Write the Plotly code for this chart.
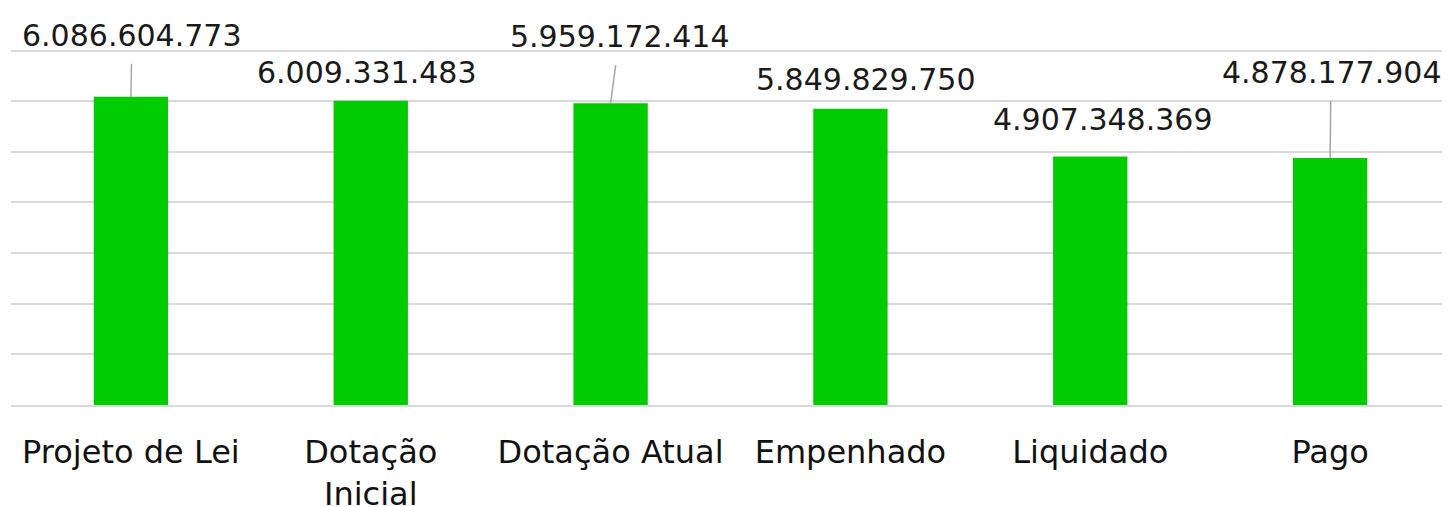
import plotly.graph_objects as go

categories = ["Projeto de Lei", "Dotação<br>Inicial", "Dotação Atual", "Empenhado", "Liquidado", "Pago"]
values = [6086604773, 6009331483, 5959172414, 5849829750, 4907348369, 4878177904]
value_labels = ["6.086.604.773", "6.009.331.483", "5.959.172.414", "5.849.829.750", "4.907.348.369", "4.878.177.904"]

# label offsets (pixels) relative to the top of each bar, and leader-line settings
label_ax = [1, -4, 9, 15, 12, 1]
label_ay = [-61, -28, -67, -29, -37, -85]
leader = [True, False, True, False, False, True]
leader_gap = [9, 0, 10, 0, 0, 9]

FONT = "DejaVu Sans"

fig = go.Figure()
fig.add_trace(go.Bar(x=categories, y=values, marker=dict(color="#00CC00", line=dict(width=0)),
                     width=0.31, hoverinfo="skip"))

for c, v, t, ax, ay, ld, gap in zip(categories, values, value_labels, label_ax, label_ay, leader, leader_gap):
    if ld:
        fig.add_annotation(x=c, y=v, xref="x", yref="y", text=t, showarrow=True,
                           arrowhead=0, arrowwidth=1.5, arrowcolor="#a6a6a6",
                           ax=ax, ay=ay, startstandoff=gap, standoff=0,
                           font=dict(family=FONT, size=30, color="#1a1a1a"))
    else:
        fig.add_annotation(x=c, y=v, xref="x", yref="y", text=t, showarrow=False,
                           xshift=ax, yshift=-ay,
                           font=dict(family=FONT, size=30, color="#1a1a1a"))

fig.update_layout(
    width=1450, height=507,
    margin=dict(l=3, r=8, t=41, b=110),
    plot_bgcolor="white", paper_bgcolor="white",
    showlegend=False,
    bargap=0.69,
)
fig.update_yaxes(range=[0, 7.03e9], dtick=1e9, showgrid=True, gridcolor="#d9d9d9", gridwidth=2,
                 showticklabels=False, zeroline=False, showline=False, automargin=False)
fig.update_xaxes(showline=True, linecolor="#d9d9d9", linewidth=2, showgrid=False,
                 tickfont=dict(family=FONT, size=32, color="#111111"), ticks="",
                 ticklabelstandoff=18, automargin=False)

fig.write_html("out.html")
